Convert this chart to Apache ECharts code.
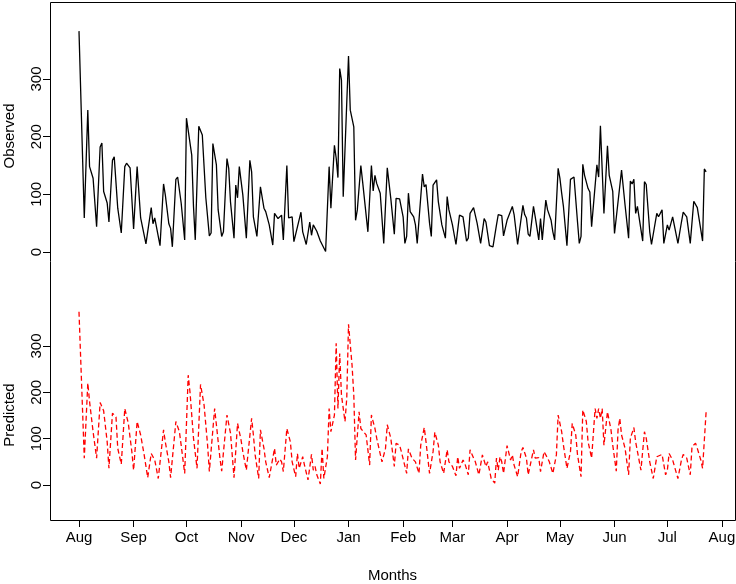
<!DOCTYPE html>
<html><head><meta charset="utf-8">
<script src="https://cdn.jsdelivr.net/npm/echarts@6/dist/echarts.min.js"></script>
<style>html,body{margin:0;padding:0;background:#fff}#c{width:736px;height:584px}</style>
</head><body><div id="c"></div>
<script>
// Month tick labels (day offsets from Aug 1)
const monthLabels = ['Aug','Sep','Oct','Nov','Dec','Jan','Feb','Mar','Apr','May','Jun','Jul','Aug'];
const monthTickDays = [0,31,61,92,122,153,184,212,243,273,304,334,365];
const yTickValues = [0,100,200,300];

// Observed series (day offset, value)
const observedDays = [0,3,5,6,8,10,12,13,14,16,17,19,20,22,24,26,27,29,31,32,33,35,36,38,39,41,42,43,46,48,49,51,52,53,55,56,58,60,61,62,64,65,66,68,70,72,74,75,76,78,79,80,81,82,84,85,86,88,89,90,91,93,95,97,98,99,100,101,102,103,105,106,107,108,110,111,113,114,115,116,118,119,121,122,123,126,127,129,131,132,133,135,136,137,138,140,142,143,145,146,147,148,149,150,151,153,154,156,157,158,160,161,162,164,166,167,168,169,171,173,175,177,179,180,181,182,184,185,186,187,188,190,191,192,193,195,196,197,199,200,201,203,204,206,208,209,210,211,212,214,216,218,219,220,221,222,224,226,227,228,230,231,232,233,235,237,238,240,241,243,244,246,247,249,250,252,253,254,255,256,258,259,260,261,262,263,264,265,266,268,269,270,272,273,274,275,277,279,280,281,283,284,285,286,287,289,290,291,292,294,295,296,298,299,300,301,303,304,305,308,310,312,313,314,315,316,317,320,321,322,324,325,326,328,329,331,332,333,334,335,337,338,340,341,342,343,345,346,347,349,350,351,352,354,355,356];
const observedValues = [383,59,246,148,128,44,182,189,105,85,52,159,165,76,33,148,154,146,40,42,148,59,59,14,14,77,49,59,11,118,99,49,41,9,126,130,85,21,232,230,168,79,21,218,203,94,28,33,188,151,73,71,27,35,162,145,87,24,116,94,148,99,24,159,139,61,59,27,27,113,76,70,73,47,12,67,58,59,64,21,150,59,61,18,17,69,35,13,52,29,47,36,35,19,17,1,148,76,185,163,129,318,298,96,96,340,246,217,55,73,150,122,121,35,150,106,133,119,102,15,146,93,31,93,90,92,61,15,27,102,70,61,47,15,17,135,113,117,50,27,116,125,87,47,24,96,73,74,47,13,64,61,64,19,24,67,77,50,47,15,58,52,55,11,9,47,65,63,28,55,58,79,65,13,16,81,65,59,31,27,79,61,61,21,58,21,21,90,73,55,35,21,145,128,102,79,11,126,126,130,52,15,27,152,133,110,104,44,47,151,130,219,67,70,184,133,105,32,31,142,81,24,123,118,126,67,79,19,122,117,35,13,16,67,61,73,15,15,47,38,61,59,15,15,52,69,61,59,15,88,88,77,76,19,144,139];

// Predicted series (day offset, value)
const predictedDays = [0,3,5,6,8,10,12,14,16,17,19,21,22,24,26,28,30,31,33,35,37,39,41,42,43,45,48,49,51,52,55,57,58,60,62,63,65,67,69,71,73,74,77,78,80,81,84,86,88,90,92,93,95,98,99,100,102,103,105,106,108,111,112,114,115,116,118,120,121,123,124,125,127,128,130,132,133,134,135,137,138,139,141,142,143,145,146,147,148,149,151,152,153,155,156,157,159,160,163,165,166,168,169,172,174,175,177,179,180,182,183,186,187,189,191,193,194,196,197,199,201,202,204,205,207,209,210,212,214,215,216,218,219,221,222,224,225,227,229,231,232,234,236,237,238,239,240,241,243,245,246,247,249,251,252,254,255,258,259,261,262,264,266,267,269,271,272,274,275,277,279,280,282,283,285,286,288,289,291,293,294,295,296,297,298,300,302,303,305,306,307,308,310,312,313,315,316,319,321,322,324,326,328,329,331,333,334,335,337,338,340,342,343,345,347,348,350,351,353,354,356];
const predictedValues = [374,58,220,180,115,58,178,160,93,36,155,147,79,45,165,133,72,32,137,108,65,16,68,61,54,14,119,93,50,16,137,115,86,25,237,201,101,36,217,173,86,29,165,130,58,30,151,112,16,133,97,72,32,144,108,65,14,119,79,50,16,79,43,56,50,29,122,93,50,18,68,36,61,43,11,66,32,40,22,2,79,14,61,165,115,151,306,165,284,194,137,187,347,259,194,54,158,122,108,43,151,122,101,50,79,130,101,40,90,86,72,25,78,58,50,25,86,124,93,25,72,114,86,50,25,76,50,40,20,61,36,54,47,22,76,58,50,22,65,40,50,14,4,58,32,61,50,25,85,54,65,43,18,72,81,58,22,76,58,59,29,72,58,50,25,65,151,115,86,36,72,133,108,65,18,162,137,93,58,165,144,165,144,165,86,158,119,86,30,119,144,108,79,22,101,124,93,32,115,101,50,14,61,58,66,22,32,68,54,58,14,54,66,58,22,83,90,79,54,36,158];

const observedData = observedDays.map((d, i) => [d, observedValues[i]]);
const predictedData = predictedDays.map((d, i) => [d, predictedValues[i]]);

const FONT = '"Liberation Sans", Arial, Helvetica, sans-serif';
const xMin = -16.46, xMax = 372.4;

const chart = echarts.init(document.getElementById('c'), null, {renderer: 'canvas'});
chart.setOption({
  animation: false,
  backgroundColor: '#ffffff',
  textStyle: {fontFamily: FONT, color: '#000'},
  grid: [
    {left: 50, width: 685, top: 2, height: 268, containLabel: false, outerBoundsMode: 'none'},
    {left: 50, width: 685, top: 310, height: 210, containLabel: false, outerBoundsMode: 'none'}
  ],
  xAxis: [
    {gridIndex: 0, type: 'value', min: xMin, max: xMax, show: false},
    {gridIndex: 1, type: 'value', min: xMin, max: xMax, position: 'bottom',
     name: 'Months', nameLocation: 'middle', nameGap: 48,
     nameTextStyle: {fontFamily: FONT, fontSize: 15, color: '#000'},
     axisLine: {show: false, onZero: false},
     axisTick: {show: true, length: 7, inside: false, customValues: monthTickDays, lineStyle: {color: '#000', width: 1}},
     axisLabel: {show: true, margin: 10, fontFamily: FONT, fontSize: 15, color: '#000', customValues: monthTickDays,
       formatter: v => monthLabels[monthTickDays.indexOf(Math.round(v))] || ''},
     splitLine: {show: false}}
  ],
  yAxis: [
    {gridIndex: 0, type: 'value', min: -31.2, max: 433.5,
     name: 'Observed', nameLocation: 'middle', nameGap: 33, nameRotate: 90,
     nameTextStyle: {fontFamily: FONT, fontSize: 15, color: '#000'},
     axisLine: {show: false, onZero: false},
     axisTick: {show: true, length: 7, customValues: yTickValues, lineStyle: {color: '#000', width: 1}},
     axisLabel: {show: true, rotate: 90, margin: 6, fontFamily: FONT, fontSize: 15, color: '#000', customValues: yTickValues},
     splitLine: {show: false}},
    {gridIndex: 1, type: 'value', min: -75.54, max: 377.7,
     name: 'Predicted', nameLocation: 'middle', nameGap: 33, nameRotate: 90,
     nameTextStyle: {fontFamily: FONT, fontSize: 15, color: '#000'},
     axisLine: {show: false, onZero: false},
     axisTick: {show: true, length: 7, customValues: yTickValues, lineStyle: {color: '#000', width: 1}},
     axisLabel: {show: true, rotate: 90, margin: 6, fontFamily: FONT, fontSize: 15, color: '#000', customValues: yTickValues},
     splitLine: {show: false}}
  ],
  graphic: [
    {type: 'rect', silent: true, z: 100,
     shape: {x: 50.5, y: 2.5, width: 685, height: 518},
     style: {fill: 'transparent', stroke: '#000', lineWidth: 1}}
  ],
  series: [
    {name: 'Observed', type: 'line', xAxisIndex: 0, yAxisIndex: 0, data: observedData,
     showSymbol: false, symbol: 'none', lineStyle: {color: '#000', width: 1.3}},
    {name: 'Predicted', type: 'line', xAxisIndex: 1, yAxisIndex: 1, data: predictedData,
     showSymbol: false, symbol: 'none', lineStyle: {color: '#ff0000', width: 1.3, type: [5, 3]}}
  ]
});
</script>
</body></html>
